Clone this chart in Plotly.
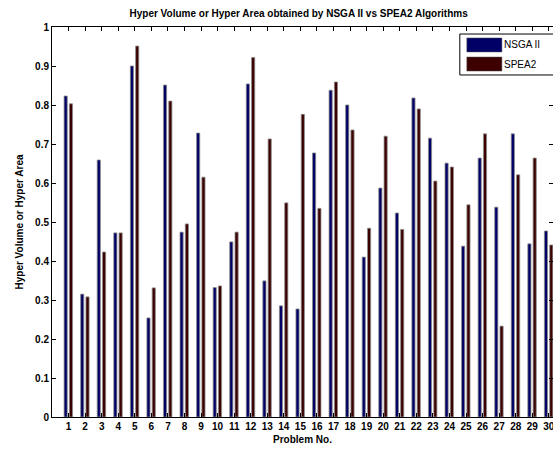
import plotly.graph_objects as go

problems = list(range(1, 31))
nsga2 = [0.823, 0.315, 0.659, 0.472, 0.900, 0.254, 0.851, 0.474, 0.728, 0.332,
         0.449, 0.854, 0.349, 0.285, 0.277, 0.677, 0.838, 0.800, 0.410, 0.587,
         0.523, 0.818, 0.715, 0.651, 0.438, 0.664, 0.538, 0.726, 0.444, 0.477]
spea2 = [0.803, 0.308, 0.423, 0.472, 0.951, 0.331, 0.810, 0.495, 0.615, 0.336,
         0.474, 0.922, 0.713, 0.549, 0.776, 0.535, 0.859, 0.736, 0.484, 0.720,
         0.481, 0.790, 0.605, 0.641, 0.544, 0.726, 0.233, 0.621, 0.664, 0.441]
series_names = ["NSGA II", "SPEA2"]
series_colors = ["#000066", "#3d0000"]
y_ticks = [0, 0.1, 0.2, 0.3, 0.4, 0.5, 0.6, 0.7, 0.8, 0.9, 1]
y_tick_text = ["0", "0.1", "0.2", "0.3", "0.4", "0.5", "0.6", "0.7", "0.8", "0.9", "1"]

fig = go.Figure()
fig.add_trace(go.Bar(x=problems, y=nsga2, name=series_names[0], width=0.19, offset=-0.27,
                     marker=dict(color=series_colors[0], line=dict(color="#8c8c8c", width=0.8))))
fig.add_trace(go.Bar(x=problems, y=spea2, name=series_names[1], width=0.19, offset=0.05,
                     marker=dict(color=series_colors[1], line=dict(color="#8c8c8c", width=0.8))))

# legend drawn as box + patches + text (paper coordinates)
shapes = [dict(type="rect", xref="paper", yref="paper", x0=0.814, x1=1.02, y0=0.877, y1=0.982,
               line=dict(color="black", width=1), fillcolor="white", layer="above")]
annotations = []
patch_y = [(0.936, 0.972), (0.887, 0.923)]
for name, col, (ya, yb) in zip(series_names, series_colors, patch_y):
    shapes.append(dict(type="rect", xref="paper", yref="paper", x0=0.828, x1=0.898, y0=ya, y1=yb,
                       line=dict(color="#555555", width=0.5), fillcolor=col, layer="above"))
    annotations.append(dict(text=name, xref="paper", yref="paper", x=0.899, y=(ya + yb) / 2,
                            xanchor="left", yanchor="middle", showarrow=False,
                            font=dict(family="Liberation Sans", size=10, color="black")))

tickfont = dict(family="Liberation Sans", size=10, color="black", weight="bold")
fig.update_layout(
    width=553, height=452,
    margin=dict(l=52, r=0, t=27, b=35),
    paper_bgcolor="white", plot_bgcolor="white",
    barmode="overlay",
    showlegend=False,
    shapes=shapes,
    annotations=annotations,
    title=dict(text="Hyper Volume or Hyper Area obtained by NSGA II vs SPEA2 Algorithms",
               x=0.54, xanchor="center", y=0.977, yanchor="top",
               font=dict(family="Liberation Sans", size=10, color="black", weight="bold")),
    xaxis=dict(range=[0, 30.25], tickvals=problems, ticktext=[str(p) for p in problems],
               ticks="inside", ticklen=4, tickcolor="black", showgrid=False, zeroline=False,
               showline=True, linecolor="black", linewidth=1, mirror="ticks",
               tickfont=tickfont, automargin=False, ticklabeloverflow="allow",
               title=dict(text="Problem No.", standoff=4,
                          font=dict(family="Liberation Sans", size=10, color="black", weight="bold"))),
    yaxis=dict(range=[0, 1], tickvals=y_ticks, ticktext=y_tick_text,
               ticks="inside", ticklen=4, tickcolor="black", showgrid=False, zeroline=False,
               showline=True, linecolor="black", linewidth=1, mirror="ticks",
               tickfont=tickfont, automargin=False,
               title=dict(text="Hyper Volume or Hyper Area", standoff=9,
                          font=dict(family="Liberation Sans", size=10, color="black", weight="bold"))),
)

fig.write_html("out.html", config={"displayModeBar": False},
               post_script="document.body.style.margin='0px';document.body.style.overflow='hidden';")
